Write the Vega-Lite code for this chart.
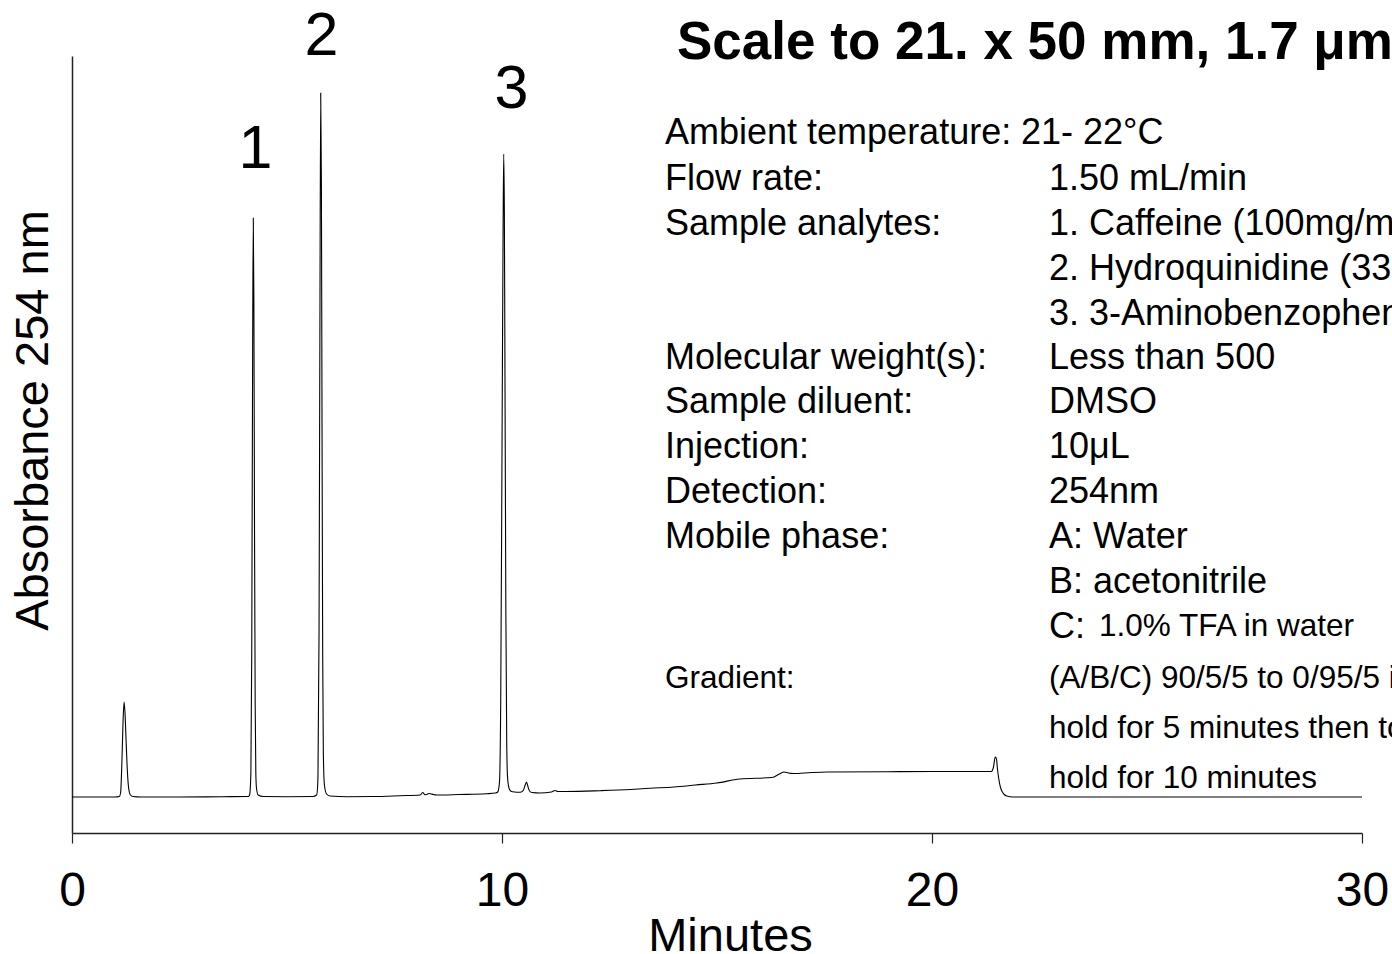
{
  "$schema": "https://vega.github.io/schema/vega-lite/v6.json",
  "width": 1290,
  "height": 777,
  "autosize": {"type": "none"},
  "padding": {"left": 72, "top": 56, "right": 30, "bottom": 121},
  "background": "white",
  "view": {"stroke": null},
  "config": {"font": "Liberation Sans"},
  "layer": [
    {
      "data": {"values": [
        {"t":0,"a":36},{"t":0.5,"a":36},{"t":1.0,"a":36},{"t":1.10,"a":36.5},{"t":1.13,"a":40},{"t":1.16,"a":70},{"t":1.19,"a":115},{"t":1.212,"a":131},{"t":1.235,"a":118},{"t":1.26,"a":90},{"t":1.29,"a":60},{"t":1.32,"a":44},{"t":1.36,"a":38},{"t":1.42,"a":36.5},{"t":1.6,"a":36},{"t":2.5,"a":36},{"t":3.5,"a":36.3},
        {"t":4.10,"a":36.5},{"t":4.13,"a":38},{"t":4.16,"a":60},{"t":4.18,"a":180},{"t":4.20,"a":470},{"t":4.216,"a":615},{"t":4.23,"a":530},{"t":4.245,"a":300},{"t":4.26,"a":130},{"t":4.275,"a":60},{"t":4.29,"a":45},{"t":4.33,"a":38},{"t":4.45,"a":36.5},{"t":5.0,"a":36.3},
        {"t":5.6,"a":36.5},{"t":5.69,"a":38},{"t":5.72,"a":55},{"t":5.745,"a":200},{"t":5.765,"a":500},{"t":5.784,"a":740},{"t":5.80,"a":650},{"t":5.815,"a":400},{"t":5.83,"a":180},{"t":5.845,"a":80},{"t":5.87,"a":48},{"t":5.92,"a":39},{"t":6.0,"a":37},{"t":6.4,"a":36.3},{"t":7.0,"a":36.5},{"t":7.63,"a":37.3},
        {"t":8.10,"a":38},{"t":8.155,"a":40.5},{"t":8.21,"a":38.3},{"t":8.25,"a":38.5},{"t":8.30,"a":39.5},{"t":8.34,"a":39.3},{"t":8.40,"a":38.5},{"t":8.48,"a":38},{"t":9.0,"a":38.5},{"t":9.64,"a":39.3},{"t":9.85,"a":40},{"t":9.90,"a":41},
        {"t":9.94,"a":50},{"t":9.97,"a":130},{"t":10.00,"a":380},{"t":10.025,"a":600},{"t":10.04,"a":679},{"t":10.055,"a":620},{"t":10.07,"a":450},{"t":10.09,"a":220},{"t":10.11,"a":90},{"t":10.13,"a":55},{"t":10.17,"a":44},{"t":10.22,"a":41.5},{"t":10.30,"a":41},{"t":10.38,"a":40.8},{"t":10.45,"a":41},
        {"t":10.50,"a":43},{"t":10.54,"a":48},{"t":10.57,"a":51},{"t":10.60,"a":47},{"t":10.64,"a":42},{"t":10.70,"a":40.5},{"t":10.88,"a":40},{"t":11.15,"a":41},{"t":11.23,"a":42.5},{"t":11.30,"a":41.5},{"t":11.5,"a":41.5},{"t":12.28,"a":42.3},{"t":13.0,"a":43.5},{"t":13.44,"a":44.7},{"t":14.0,"a":46},{"t":14.5,"a":48},{"t":15.0,"a":50},{"t":15.53,"a":54},
        {"t":16.28,"a":55.5},{"t":16.45,"a":59},{"t":16.56,"a":61},{"t":16.66,"a":60},{"t":16.77,"a":59.5},{"t":17.2,"a":60.5},{"t":17.56,"a":61},{"t":18.95,"a":61.3},{"t":20.0,"a":61.5},{"t":20.81,"a":61.5},{"t":21.38,"a":61.5},
        {"t":21.43,"a":66},{"t":21.47,"a":76},{"t":21.50,"a":74},{"t":21.52,"a":65},{"t":21.55,"a":55},{"t":21.59,"a":46},{"t":21.63,"a":41.5},{"t":21.68,"a":38.5},{"t":21.74,"a":37},{"t":21.88,"a":36},{"t":23,"a":36},{"t":26,"a":36},{"t":30,"a":36}
      ]},
      "mark": {"type": "line", "color": "black", "strokeWidth": 1.1, "interpolate": "monotone"},
      "encoding": {
        "x": {"field": "t", "type": "quantitative",
          "scale": {"domain": [0, 30], "nice": false, "zero": false},
          "axis": {"values": [0, 10, 20, 30], "grid": false, "domainColor": "#222", "domainWidth": 1.5,
            "tickColor": "#222", "tickWidth": 1.2, "tickSize": 10, "labelFontSize": 48, "labelColor": "black",
            "labelPadding": 24, "labelFont": "Liberation Sans", "labelFlush": false,
            "title": "Minutes", "titleFontSize": 47, "titleFontWeight": "normal", "titleColor": "black",
            "titleFont": "Liberation Sans", "titleX": 658, "titleY": 117, "titleBaseline": "alphabetic", "titleAlign": "center"}},
        "y": {"field": "a", "type": "quantitative",
          "scale": {"domain": [0, 777], "nice": false, "zero": false},
          "axis": {"ticks": false, "labels": false, "grid": false, "domainColor": "#222", "domainWidth": 1.5,
            "title": "Absorbance 254 nm", "titleFontSize": 47, "titleFontWeight": "normal", "titleColor": "black",
            "titleFont": "Liberation Sans", "titleAngle": -90, "titleX": -25, "titleY": 364,
            "titleBaseline": "alphabetic", "titleAlign": "center"}}
      }
    },
    {
      "data": {"values": [
        {"t": 4.267, "a": 683, "label": "1"},
        {"t": 5.802, "a": 796, "label": "2"},
        {"t": 10.221, "a": 743, "label": "3"}
      ]},
      "mark": {"type": "text", "fontSize": 61, "font": "Liberation Sans", "color": "black", "align": "center", "baseline": "middle"},
      "encoding": {
        "x": {"field": "t", "type": "quantitative"},
        "y": {"field": "a", "type": "quantitative"},
        "text": {"field": "label"}
      }
    },
    {
      "data": {"values": [
        {"t": 14.07, "a": 790, "label": "Scale to 21. x 50 mm, 1.7 μm"}
      ]},
      "mark": {"type": "text", "fontSize": 53, "fontWeight": "bold", "font": "Liberation Sans", "color": "black", "align": "left", "baseline": "middle"},
      "encoding": {
        "x": {"field": "t", "type": "quantitative"},
        "y": {"field": "a", "type": "quantitative"},
        "text": {"field": "label"}
      }
    },
    {
      "data": {"values": [
        {"t": 13.791, "a": 700, "label": "Ambient temperature:"},
        {"t": 13.791, "a": 654, "label": "Flow rate:"},
        {"t": 13.791, "a": 609, "label": "Sample analytes:"},
        {"t": 13.791, "a": 475, "label": "Molecular weight(s):"},
        {"t": 13.791, "a": 431, "label": "Sample diluent:"},
        {"t": 13.791, "a": 386, "label": "Injection:"},
        {"t": 13.791, "a": 341, "label": "Detection:"},
        {"t": 13.791, "a": 296, "label": "Mobile phase:"},
        {"t": 22.07, "a": 700, "label": "21- 22°C"},
        {"t": 22.721, "a": 654, "label": "1.50 mL/min"},
        {"t": 22.721, "a": 609, "label": "1. Caffeine (100mg/mL)"},
        {"t": 22.721, "a": 564, "label": "2. Hydroquinidine (33mg/mL)"},
        {"t": 22.721, "a": 519, "label": "3. 3-Aminobenzophenone (33mg/mL)"},
        {"t": 22.721, "a": 475, "label": "Less than 500"},
        {"t": 22.721, "a": 431, "label": "DMSO"},
        {"t": 22.721, "a": 386, "label": "10μL"},
        {"t": 22.721, "a": 341, "label": "254nm"},
        {"t": 22.721, "a": 296, "label": "A: Water"},
        {"t": 22.721, "a": 251, "label": "B: acetonitrile"},
        {"t": 22.721, "a": 206, "label": "C:"}
      ]},
      "mark": {"type": "text", "fontSize": 36, "font": "Liberation Sans", "color": "black", "align": "left", "baseline": "middle"},
      "encoding": {
        "x": {"field": "t", "type": "quantitative"},
        "y": {"field": "a", "type": "quantitative"},
        "text": {"field": "label"}
      }
    },
    {
      "data": {"values": [
        {"t": 23.884, "a": 206, "label": "1.0% TFA in water"},
        {"t": 13.791, "a": 154, "label": "Gradient:"},
        {"t": 22.721, "a": 154, "label": "(A/B/C) 90/5/5 to 0/95/5 in 20 minutes"},
        {"t": 22.721, "a": 104, "label": "hold for 5 minutes then to 90/5/5"},
        {"t": 22.721, "a": 54, "label": "hold for 10 minutes"}
      ]},
      "mark": {"type": "text", "fontSize": 31.5, "font": "Liberation Sans", "color": "black", "align": "left", "baseline": "middle"},
      "encoding": {
        "x": {"field": "t", "type": "quantitative"},
        "y": {"field": "a", "type": "quantitative"},
        "text": {"field": "label"}
      }
    }
  ]
}
